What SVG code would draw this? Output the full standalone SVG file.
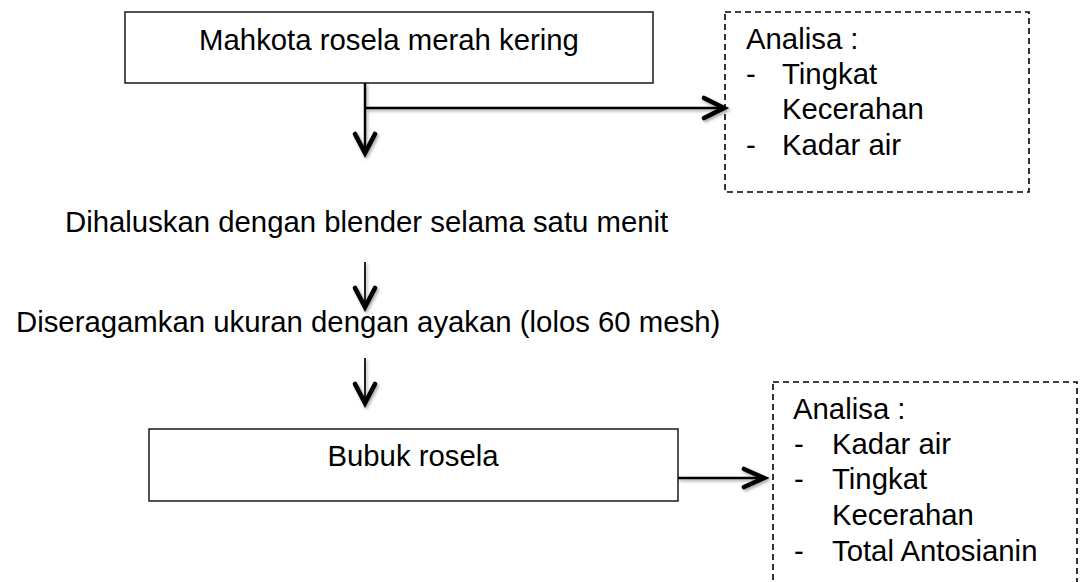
<svg xmlns="http://www.w3.org/2000/svg" width="1085" height="582" viewBox="0 0 1085 582">
  <defs>
    <style>
      text { font-family: "Liberation Sans", Arial, sans-serif; font-size: 29.33px; fill: #000; }
      .box { fill: #fff; stroke: #1a1a1a; stroke-width: 1.5; }
      .dash { fill: none; stroke: #000; stroke-width: 1.6; stroke-dasharray: 6 4; }
      .ln { fill: none; stroke: #000; stroke-width: 2.4; }
      .head { fill: none; stroke: #000; stroke-width: 4.6; stroke-linecap: round; stroke-linejoin: miter; }
    </style>
    <filter id="sh" x="-20%" y="-20%" width="140%" height="140%">
      <feDropShadow dx="1.5" dy="2" stdDeviation="1.5" flood-color="#000" flood-opacity="0.35"/>
    </filter>
  </defs>
  <rect width="1085" height="582" fill="#fff"/>

  <g id="node-mahkota">
    <rect class="box" x="125" y="12" width="528" height="71"/>
    <text x="389" y="50" text-anchor="middle">Mahkota rosela merah kering</text>
  </g>

  <g id="node-analisa1">
    <rect class="dash" x="725" y="12" width="304" height="180"/>
    <text x="746" y="49">Analisa :</text>
    <text x="746" y="84">-</text>
    <text x="782" y="84">Tingkat</text>
    <text x="782" y="119">Kecerahan</text>
    <text x="746" y="155">-</text>
    <text x="782" y="155">Kadar air</text>
  </g>

  <g id="node-dihaluskan">
    <text x="65" y="232">Dihaluskan dengan blender selama satu menit</text>
  </g>

  <g id="node-diseragamkan">
    <text x="16" y="332">Diseragamkan ukuran dengan ayakan (lolos 60 mesh)</text>
  </g>

  <g id="node-bubuk">
    <rect class="box" x="149" y="429" width="529" height="72"/>
    <text x="413" y="466" text-anchor="middle">Bubuk rosela</text>
  </g>

  <g id="node-analisa2">
    <rect class="dash" x="773" y="382" width="304" height="215"/>
    <text x="793" y="419">Analisa :</text>
    <text x="794" y="454">-</text>
    <text x="832" y="454">Kadar air</text>
    <text x="794" y="489">-</text>
    <text x="832" y="489">Tingkat</text>
    <text x="832" y="525">Kecerahan</text>
    <text x="794" y="561">-</text>
    <text x="832" y="561">Total Antosianin</text>
  </g>

  <g id="connectors" filter="url(#sh)">
    <line class="ln" x1="365" y1="83" x2="365" y2="153"/>
    <polyline class="head" points="355,134 365,153 375,134"/>
    <line class="ln" x1="365" y1="108" x2="724" y2="108"/>
    <polyline class="head" points="704,98 724,108 704,118"/>
    <line class="ln" x1="365" y1="262" x2="365" y2="307" style="stroke-width:1.7"/>
    <polyline class="head" points="355,288 365,307 375,288"/>
    <line class="ln" x1="365" y1="358" x2="365" y2="403" style="stroke-width:1.7"/>
    <polyline class="head" points="355,384 365,403 375,384"/>
    <line class="ln" x1="678" y1="478" x2="764" y2="478"/>
    <polyline class="head" points="744,469 764,478 744,487"/>
  </g>
</svg>
